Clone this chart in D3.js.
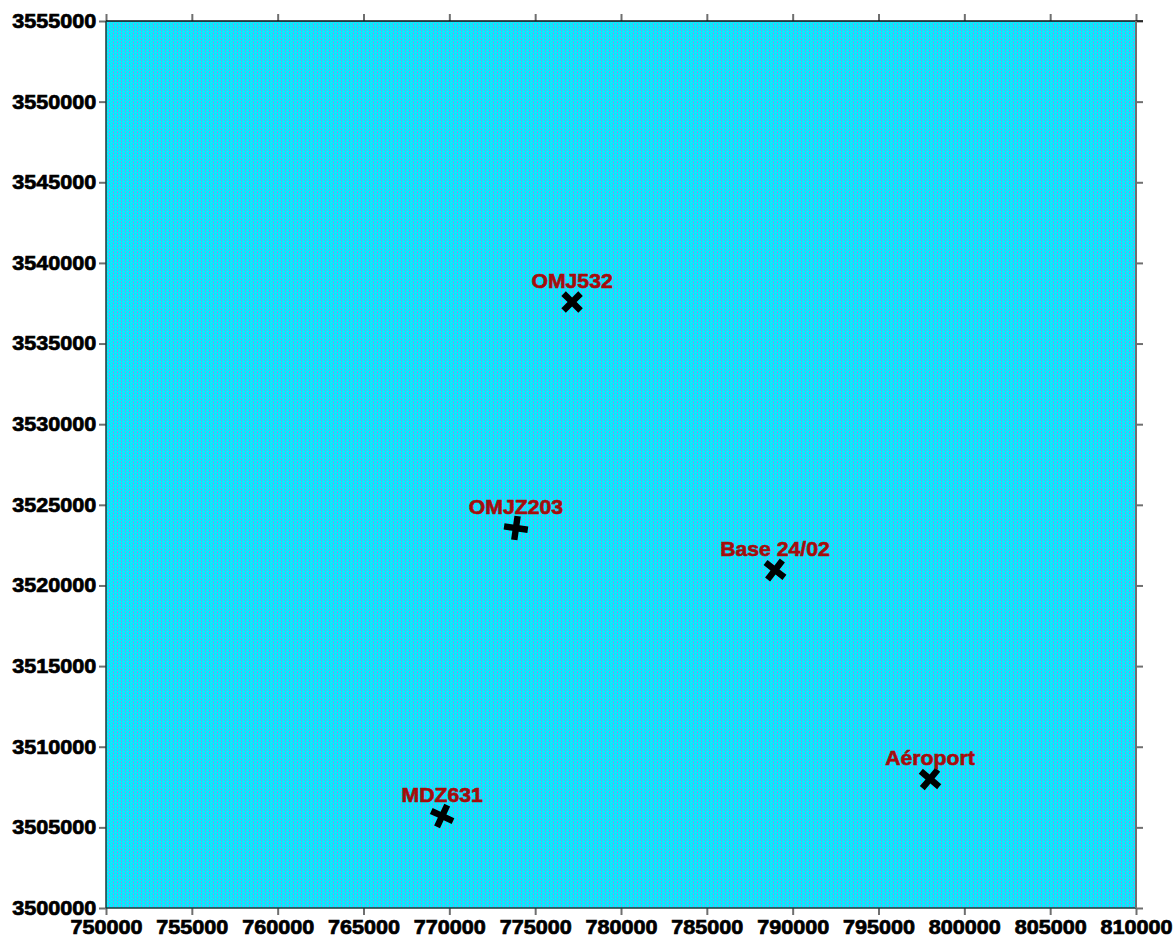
<!DOCTYPE html>
<html>
<head>
<meta charset="utf-8">
<script src="https://cdn.jsdelivr.net/npm/d3@7"></script>
<style>
  html, body { margin: 0; padding: 0; background: #ffffff; }
  svg { display: block; }
  text { font-family: "Liberation Sans", Arial, sans-serif; font-weight: bold; }
</style>
</head>
<body>
<svg id="chart" width="1176" height="936"></svg>
<script>
// Station names and UTM coordinates (easting, northing, metres)
const stations = ["OMJ532", "OMJZ203", "Base 24/02", "Aéroport", "MDZ631"];
const eastings = [777150, 773880, 788970, 798000, 769580];
const northings = [3537570, 3523560, 3520960, 3508000, 3505700];
const markerAngles = [45, 8, 38, 40, 25];

// Axis extents and ticks
const xDomain = [750000, 810000];
const yDomain = [3500000, 3555000];
const xTicks = d3.range(750000, 810001, 5000);
const yTicks = d3.range(3500000, 3555001, 5000);

const margin = { left: 106, right: 40, top: 21, bottom: 28 };
const width = 1176, height = 936;

const svg = d3.select("#chart");

const x = d3.scaleLinear().domain(xDomain).range([margin.left, width - margin.right]);
const y = d3.scaleLinear().domain(yDomain).range([height - margin.bottom, margin.top]);

// Fine dotted cyan fill for the map area
const defs = svg.append("defs");
const pat = defs.append("pattern")
  .attr("id", "grain")
  .attr("patternUnits", "userSpaceOnUse")
  .attr("width", 4).attr("height", 3);
pat.append("rect").attr("width", 4).attr("height", 3).attr("fill", "#06ecfc");
pat.append("rect").attr("x", 1).attr("y", 0).attr("width", 1).attr("height", 1).attr("fill", "#a07ee4");
pat.append("rect").attr("x", 1).attr("y", 2).attr("width", 1).attr("height", 1).attr("fill", "#6aaaf0");
pat.append("rect").attr("x", 3).attr("y", 1).attr("width", 1).attr("height", 1).attr("fill", "#48c4f6");

const x0 = x(xDomain[0]), x1 = x(xDomain[1]);
const y0 = y(yDomain[0]), y1 = y(yDomain[1]);

svg.append("rect")
  .attr("x", x0).attr("y", y1)
  .attr("width", x1 - x0).attr("height", y0 - y1)
  .attr("fill", "url(#grain)");

const fmt = d3.format("d");

function styleAxis(g, showLabels) {
  g.select(".domain").remove();
  g.selectAll(".tick line").attr("stroke", "#6f6f6f").attr("stroke-width", 2);
  if (showLabels) {
    g.selectAll(".tick text")
      .attr("fill", "#000")
      .attr("stroke", "#000")
      .attr("stroke-width", 0.7)
      .style("font-size", "20px")
      .style("font-weight", "bold");
  }
}

// Bottom axis
svg.append("g")
  .attr("transform", `translate(0,${y0})`)
  .call(d3.axisBottom(x).tickValues(xTicks).tickFormat(fmt).tickSize(7).tickPadding(5))
  .call(g => styleAxis(g, true))
  .call(g => g.selectAll(".tick text").attr("transform", "scale(1.08,1)"));

// Top axis (ticks only)
svg.append("g")
  .attr("transform", `translate(0,${y1})`)
  .call(d3.axisTop(x).tickValues(xTicks).tickFormat("").tickSize(7))
  .call(g => styleAxis(g, false));

// Left axis
svg.append("g")
  .attr("transform", `translate(${x0},0)`)
  .call(d3.axisLeft(y).tickValues(yTicks).tickFormat(fmt).tickSize(7).tickPadding(2))
  .call(g => styleAxis(g, true))
  .call(g => g.selectAll(".tick text").attr("transform", "scale(1.08,1)"));

// Right axis (ticks only)
svg.append("g")
  .attr("transform", `translate(${x1},0)`)
  .call(d3.axisRight(y).tickValues(yTicks).tickFormat("").tickSize(7))
  .call(g => styleAxis(g, false));

// Frame
svg.append("line").attr("x1", x0).attr("x2", x1 + 7).attr("y1", y1).attr("y2", y1).attr("stroke", "#111").attr("stroke-width", 1.5);
svg.append("line").attr("x1", x0).attr("x2", x1).attr("y1", y0).attr("y2", y0).attr("stroke", "#1a3a3a").attr("stroke-width", 1.5);
svg.append("line").attr("x1", x0).attr("x2", x0).attr("y1", y1).attr("y2", y0).attr("stroke", "#1a3a3a").attr("stroke-width", 1.5);
svg.append("line").attr("x1", x1).attr("x2", x1).attr("y1", y1).attr("y2", y0).attr("stroke", "#6f6f6f").attr("stroke-width", 2);

// Station markers and labels
const data = stations.map((name, i) => ({ name, e: eastings[i], n: northings[i], a: markerAngles[i] }));

const st = svg.append("g").selectAll("g.station")
  .data(data)
  .enter().append("g")
  .attr("class", "station")
  .attr("transform", d => `translate(${x(d.e)},${y(d.n)})`);

const crossPath = "M-12,-3.2H-3.2V-12H3.2V-3.2H12V3.2H3.2V12H-3.2V3.2H-12Z";
st.append("path")
  .attr("d", crossPath)
  .attr("fill", "#000")
  .attr("transform", d => `rotate(${d.a})`);

st.append("text")
  .attr("y", -14)
  .attr("text-anchor", "middle")
  .attr("fill", "#a50c0c")
  .attr("stroke", "#a50c0c")
  .attr("stroke-width", 0.6)
  .attr("transform", "scale(1.06,1)")
  .style("font-size", "20px")
  .text(d => d.name);
</script>
</body>
</html>
